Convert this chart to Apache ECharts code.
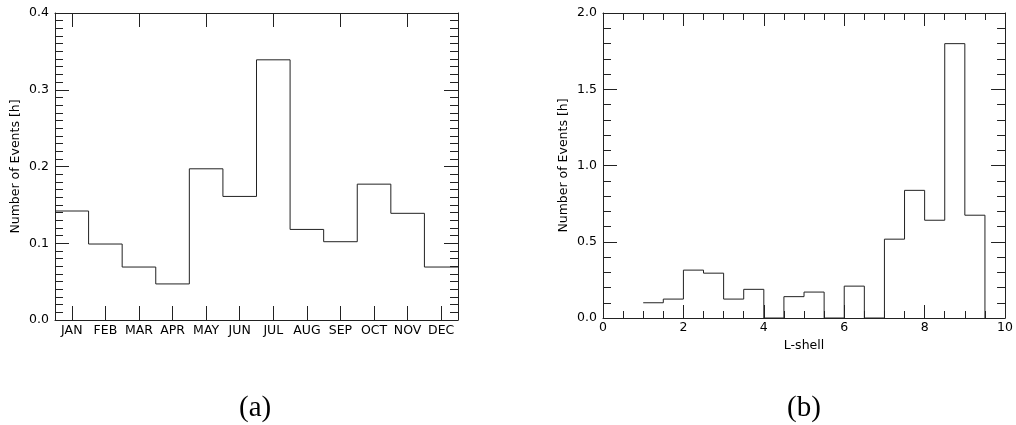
<!DOCTYPE html>
<html>
<head>
<meta charset="utf-8">
<title>Event hours by month and L-shell</title>
<script src="https://cdn.jsdelivr.net/npm/echarts@6/dist/echarts.min.js"></script>
<style>
  html, body { margin: 0; padding: 0; background: #fff; }
  #chart { width: 1016px; height: 425px; }
</style>
</head>
<body>
<div id="chart"></div>
<script>
// Panel (a): hours of events per month
const months = ['JAN', 'FEB', 'MAR', 'APR', 'MAY', 'JUN', 'JUL', 'AUG', 'SEP', 'OCT', 'NOV', 'DEC'];
const monthlyHours = [0.142, 0.099, 0.069, 0.047, 0.197, 0.161, 0.339, 0.118, 0.102, 0.177, 0.139, 0.069];

// Panel (b): hours of events per L-shell bin (bin left edges, width 0.5)
const lShellBinStart = [1, 1.5, 2, 2.5, 3, 3.5, 4, 4.5, 5, 5.5, 6, 6.5, 7, 7.5, 8, 8.5, 9];
const lShellHours = [0.100, 0.124, 0.314, 0.294, 0.124, 0.188, 0, 0.140, 0.170, 0, 0.209, 0, 0.517, 0.837, 0.641, 1.799, 0.674];
const lShellBinWidth = 0.5;

const yTicksA = { min: 0, max: 0.4, interval: 0.1 };
const yTicksB = { min: 0, max: 2.0, interval: 0.5 };
const xTicksB = { min: 0, max: 10, interval: 2 };

// Histogram outlines as step lines: one point per bin left edge, plus the closing edge
const monthSteps = monthlyHours.map((v, i) => [i, v]);
monthSteps.push([months.length, monthlyHours[monthlyHours.length - 1]]);

const lShellSteps = lShellBinStart.map((x, i) => [x, lShellHours[i]]);
lShellSteps.push([lShellBinStart[lShellBinStart.length - 1] + lShellBinWidth, 0]);

const INK = '#222';
const FONT = 'DejaVu Sans';

// Every axis forms one side of a closed frame, so none may jump to the zero line
function frameAxis(extra) {
  return Object.assign({
    axisLine: { show: true, onZero: false, lineStyle: { color: INK, width: 1 } },
    axisTick: { show: true, inside: true, length: 14, lineStyle: { color: INK, width: 1 } },
    splitLine: { show: false },
    axisLabel: { show: false }
  }, extra);
}

const labelStyle = { color: '#000', fontFamily: FONT, fontSize: 12.5 };

const chart = echarts.init(document.getElementById('chart'), null, { renderer: 'canvas' });

chart.setOption({
  animation: false,
  backgroundColor: '#fff',
  grid: [
    { left: 55, right: 558, top: 13, bottom: 105, containLabel: false },
    { left: 603, right: 10, top: 13, bottom: 107, containLabel: false }
  ],
  xAxis: [
    // (a) month labels and ticks, bottom
    frameAxis({
      gridIndex: 0, type: 'category', position: 'bottom', data: months,
      boundaryGap: true,
      axisTick: { show: true, inside: true, length: 14, alignWithLabel: true, lineStyle: { color: INK, width: 1 } },
      axisLabel: Object.assign({ show: true, margin: 4, interval: 0 }, labelStyle)
    }),
    // (a) mirrored ticks, top
    frameAxis({
      gridIndex: 0, type: 'category', position: 'top', data: months,
      boundaryGap: true,
      axisTick: { show: true, inside: true, length: 14, alignWithLabel: true, lineStyle: { color: INK, width: 1 } }
    }),
    // (a) numeric bin axis carrying the histogram
    { gridIndex: 0, type: 'value', position: 'bottom', min: 0, max: months.length, show: false,
      axisLine: { onZero: false } },
    // (b) L-shell axis, bottom
    frameAxis({
      gridIndex: 1, type: 'value', position: 'bottom',
      min: xTicksB.min, max: xTicksB.max, interval: xTicksB.interval,
      axisTick: { show: true, inside: true, length: 13, lineStyle: { color: INK, width: 1 } },
      minorTick: { show: true, splitNumber: 4, length: 7, lineStyle: { color: INK, width: 1 } },
      axisLabel: Object.assign({ show: true, margin: 3 }, labelStyle),
      name: 'L-shell', nameLocation: 'middle', nameGap: 16,
      nameTextStyle: labelStyle
    }),
    // (b) mirrored ticks, top
    frameAxis({
      gridIndex: 1, type: 'value', position: 'top',
      min: xTicksB.min, max: xTicksB.max, interval: xTicksB.interval,
      axisTick: { show: true, inside: true, length: 13, lineStyle: { color: INK, width: 1 } },
      minorTick: { show: true, splitNumber: 4, length: 7, lineStyle: { color: INK, width: 1 } }
    })
  ],
  yAxis: [
    // (a) left
    frameAxis({
      gridIndex: 0, type: 'value', position: 'left',
      min: yTicksA.min, max: yTicksA.max, interval: yTicksA.interval,
      minorTick: { show: true, splitNumber: 10, length: 8, lineStyle: { color: INK, width: 1 } },
      axisLabel: Object.assign({ show: true, margin: 6, formatter: v => v.toFixed(1) }, labelStyle),
      name: 'Number of Events [h]', nameLocation: 'middle', nameGap: 33,
      nameTextStyle: labelStyle
    }),
    // (a) right
    frameAxis({
      gridIndex: 0, type: 'value', position: 'right',
      min: yTicksA.min, max: yTicksA.max, interval: yTicksA.interval,
      minorTick: { show: true, splitNumber: 10, length: 8, lineStyle: { color: INK, width: 1 } }
    }),
    // (b) left
    frameAxis({
      gridIndex: 1, type: 'value', position: 'left',
      min: yTicksB.min, max: yTicksB.max, interval: yTicksB.interval,
      minorTick: { show: true, splitNumber: 5, length: 8, lineStyle: { color: INK, width: 1 } },
      axisLabel: Object.assign({ show: true, margin: 6, formatter: v => v.toFixed(1) }, labelStyle),
      name: 'Number of Events [h]', nameLocation: 'middle', nameGap: 33,
      nameTextStyle: labelStyle
    }),
    // (b) right
    frameAxis({
      gridIndex: 1, type: 'value', position: 'right',
      min: yTicksB.min, max: yTicksB.max, interval: yTicksB.interval,
      minorTick: { show: true, splitNumber: 5, length: 8, lineStyle: { color: INK, width: 1 } }
    })
  ],
  series: [
    {
      name: 'Monthly', type: 'line', step: 'end',
      xAxisIndex: 2, yAxisIndex: 0,
      data: monthSteps, showSymbol: false, symbol: 'none',
      lineStyle: { color: INK, width: 1 }, clip: false
    },
    {
      name: 'L-shell', type: 'line', step: 'end',
      xAxisIndex: 3, yAxisIndex: 2,
      data: lShellSteps, showSymbol: false, symbol: 'none',
      lineStyle: { color: INK, width: 1 }, clip: false
    }
  ],
  graphic: [
    { type: 'text', left: 255 - 16, top: 394,
      style: { text: '(a)', font: '29px "Liberation Serif"', fill: '#000' } },
    { type: 'text', left: 803 - 16, top: 394,
      style: { text: '(b)', font: '29px "Liberation Serif"', fill: '#000' } }
  ]
});
</script>
</body>
</html>
